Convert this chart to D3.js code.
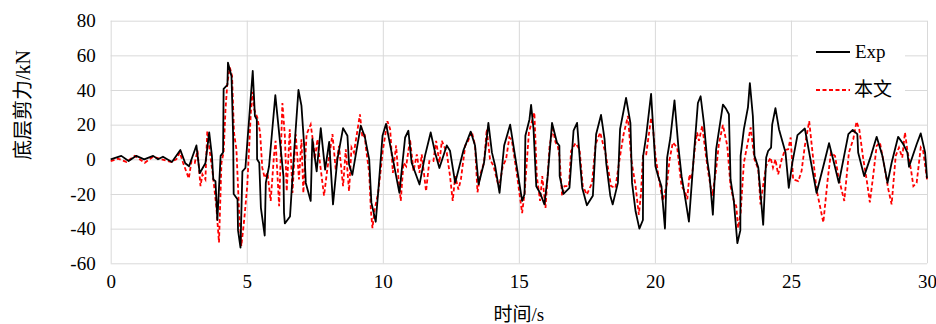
<!DOCTYPE html>
<html>
<head>
<meta charset="utf-8">
<script src="https://cdn.jsdelivr.net/npm/d3@7/dist/d3.min.js"></script>
<style>
  body { margin: 0; background: #fff; }
  svg text { font-family: "Liberation Serif", "Times New Roman", serif; fill: #000; }
  svg text.cjk { font-family: "Liberation Serif", "Times New Roman", "Noto Sans CJK SC", serif; }
</style>
</head>
<body>
<div class="chart"></div>
<script>
// time (s) and base shear (kN)
const timeExp = [0,0.39,0.66,0.94,1.23,1.56,1.74,1.92,2.25,2.56,2.74,2.88,3.15,3.27,3.48,3.62,3.72,3.77,3.85,3.92,4.04,4.13,4.15,4.29,4.31,4.44,4.50,4.52,4.66,4.68,4.77,4.84,4.95,5.22,5.30,5.37,5.38,5.46,5.52,5.66,5.70,5.82,6.05,6.35,6.37,6.40,6.59,6.74,6.90,7.01,7.11,7.17,7.35,7.41,7.57,7.72,7.88,8.03,8.17,8.33,8.54,8.70,8.76,8.88,9.19,9.34,9.50,9.58,9.74,9.83,9.99,10.12,10.61,10.82,10.94,11.06,11.35,11.55,11.76,11.92,12.08,12.35,12.47,12.66,12.96,13.23,13.39,13.52,13.72,13.88,14.01,14.13,14.29,14.46,14.68,14.92,15.12,15.21,15.24,15.39,15.45,15.54,15.64,15.78,15.94,16.06,16.22,16.40,16.49,16.50,16.64,16.86,17.01,17.14,17.25,17.33,17.50,17.72,17.84,18.02,18.15,18.21,18.36,18.45,18.64,18.72,18.94,19.10,19.16,19.29,19.43,19.56,19.57,19.68,19.86,20.02,20.12,20.24,20.37,20.45,20.57,20.72,20.86,20.98,21.13,21.25,21.43,21.58,21.68,21.80,21.92,22.01,22.13,22.25,22.50,22.62,22.72,22.78,22.90,23.03,23.14,23.15,23.27,23.42,23.49,23.60,23.66,23.80,23.98,24.09,24.16,24.27,24.31,24.43,24.56,24.80,24.92,25.05,25.24,25.51,25.74,25.94,26.19,26.40,26.55,26.76,27.11,27.27,27.44,27.47,27.69,27.94,28.15,28.36,28.55,28.70,28.94,29.13,29.28,29.34,29.62,29.77,29.93,30.00];
const shearExp = [0,2,-1,2,0,2,0,1.5,-1.5,5.4,-2.3,-4,8,-8,-2.3,15.5,2,-11.6,-12.6,-35,2,4,40.7,43,55.8,48,13.6,-20,-23,-41,-51,-7,-5,51,25,23,0,-2,-28,-44,-13.6,-4,37,-10,-31,-37,-33,4,40,31,8,-13.6,-24,11.6,-7,18,-6,10,-26,0,18,13.6,-3,-9,19.4,13,0,-25,-36,-19,13.6,20.5,-19.4,12.6,16.5,-2,-14.5,2,15.5,4,-5,8,5,-13.6,5,16,8,-14.5,-2,21,4,-4,-19.4,8,20,-4,-24,-20,13.6,23,31.4,17.4,-15.5,-19.4,-26,-9.7,21,9.7,7.8,-9.7,-20,-16.5,16.5,21,-2,-16.5,-26.5,-21,14.5,25.6,11.6,-2,-21,-26,-13.6,17.4,35.5,21,-13.6,-30,-40,-35,2,13.6,37.8,-4,-9.7,-15.5,-40,1,12.6,34,7.8,-9.7,-24,-36,2,32.5,36.4,21,0,-9.7,-32,5.8,31.6,29,26,-11.6,-24,-48.4,-41,2,17.4,30,44,25,2,-4.8,-37.8,1,4.8,6.8,20,29.5,17.4,3.9,-16.5,-2,14,17.8,-2,-19.4,-4,9.3,0,-13.6,14.5,17,14.5,3.9,-9.7,2,13,2,-13.6,-2,13,8.7,3.9,-4.3,8.7,15,3.9,-11];

const timeCalc = [0,0.27,0.58,0.88,1.25,1.56,1.86,2.23,2.41,2.54,2.66,2.87,2.97,3.09,3.19,3.30,3.37,3.48,3.55,3.64,3.76,3.88,3.98,4.07,4.15,4.22,4.29,4.38,4.46,4.53,4.62,4.71,4.80,4.90,5.02,5.15,5.21,5.27,5.39,5.49,5.57,5.66,5.76,5.88,6.00,6.06,6.19,6.31,6.40,6.47,6.58,6.68,6.80,6.92,7.01,7.08,7.20,7.35,7.45,7.50,7.60,7.69,7.84,7.96,8.15,8.27,8.39,8.54,8.64,8.76,8.85,8.94,9.16,9.25,9.34,9.37,9.50,9.56,9.62,9.70,9.83,10.00,10.17,10.27,10.37,10.49,10.57,10.66,10.76,10.86,11.00,11.13,11.25,11.35,11.43,11.59,11.71,11.86,11.96,12.08,12.17,12.35,12.47,12.57,12.66,12.78,12.87,13.03,13.11,13.27,13.39,13.48,13.60,13.72,13.82,13.94,14.07,14.27,14.41,14.53,14.65,14.74,14.92,15.12,15.21,15.37,15.57,15.66,15.78,15.86,15.98,16.13,16.25,16.35,16.43,16.49,16.59,16.68,16.84,16.92,17.08,17.23,17.35,17.50,17.69,17.82,17.99,18.11,18.18,18.39,18.55,18.70,18.85,19.01,19.13,19.29,19.41,19.49,19.56,19.68,19.86,19.92,20.02,20.15,20.29,20.45,20.54,20.66,20.82,20.88,20.98,21.10,21.19,21.27,21.35,21.49,21.55,21.62,21.74,21.86,21.98,22.11,22.25,22.35,22.50,22.66,22.78,22.90,22.99,23.06,23.15,23.27,23.39,23.52,23.60,23.66,23.80,23.88,24.01,24.09,24.25,24.34,24.43,24.53,24.66,24.78,24.90,24.99,25.08,25.27,25.39,25.51,25.67,25.78,25.94,26.19,26.35,26.47,26.62,26.74,26.96,27.13,27.29,27.41,27.51,27.66,27.78,27.90,28.02,28.15,28.27,28.42,28.58,28.70,28.85,28.97,29.09,29.19,29.29,29.41,29.50,29.62,29.77,29.86,30.00];
const shearCalc = [-1,0.4,-1.5,2,-2,1.5,0,-1.5,0,4,-2,-11,-1,-2,5,-15.5,-8.7,-11.6,16.5,4.8,-9.7,-27,-48,-2,4,29,44.6,53,48,15.5,5.8,-27,-50,-36,-15,27,39,29,24,15.5,-4.8,-10.7,-7.8,-24,2,10.7,-27,32.5,13.6,-18.4,17.4,-19.4,14.5,-11.6,11.6,-19.4,14.5,20,8.7,0,11.6,-2,-21,-5.8,14.5,-5.8,7.8,-15.5,5.8,-18.4,6.8,3.9,26,12.6,13.6,7.8,-7.8,-29,-39.7,-29,-19.4,5,22,17.4,-7.8,8,-9.7,-24,-2,-4,11.6,-6.8,2.9,-7.8,2.9,-18.4,-1,-1,10.7,-2,10.7,3.9,-9.7,-24,-9.7,-17.4,-11.6,8,9.7,16,8,-19,-7.8,-2,17.4,0,-3.9,-16.5,-3.9,0,12.6,11.2,-7.8,-31,-19.4,15.5,27,-9.7,-24,-9.7,-28,7.8,17.4,9.7,7.8,2,-21,-15.5,-15.5,4.8,9.3,5.8,-15.5,-20.3,-13.6,8.7,15.5,7.8,3.9,-15.5,-16.5,0,14.5,25,0,-15.5,-32,-19.4,2,2.9,24,20,2,-11.6,-24,-13.6,0,9.7,6.8,-2,-15.5,-18.4,-23,-8.7,-11.6,9.7,15.5,10.7,19.4,3.9,-9.7,-21,-5.8,8.7,19.8,7.8,-15.5,-24,-27,-39.7,-31,-2,7.8,18.4,7.8,0,-5.8,-26,-11.6,-3.9,1,-4.8,0,-8.7,0,5.4,5.8,12.6,-11.6,-12.6,-6.8,7.8,22,5.8,-17.4,-36.4,-11.6,3.9,2,-9.7,-24,3.9,11.6,21.7,17.4,0,-11.6,-24.8,-9.7,7.8,9.7,-2.9,-17.4,-26,2,6.8,1,15.5,3.9,-5.8,-15.5,-13.6,6.8,4.8,-11.6];

const xTicks = [0, 5, 10, 15, 20, 25, 30];
const yTicks = [-60, -40, -20, 0, 20, 40, 60, 80];
const seriesNames = ["Exp", "本文"];

const W = 936, H = 324;
const plotLeft = 110.7, plotRight = 927, plotTop = 20.7, plotBottom = 263.3;
const serif = '"Liberation Serif", "Times New Roman", serif';

const svg = d3.select("div.chart").append("svg")
  .attr("width", W)
  .attr("height", H);

const x = d3.scaleLinear().domain([0, 30]).range([plotLeft, plotRight]);
const y = d3.scaleLinear().domain([-60, 80]).range([plotBottom, plotTop]);

// gridlines + tick labels (plain hyphen for negatives, like the original)
const gx = svg.append("g")
  .attr("transform", "translate(0," + plotBottom + ")")
  .call(d3.axisBottom(x).tickValues(xTicks).tickFormat(d => String(d))
    .tickSize(-(plotBottom - plotTop)).tickPadding(11));
const gy = svg.append("g")
  .attr("transform", "translate(" + plotLeft + ",0)")
  .call(d3.axisLeft(y).tickValues(yTicks).tickFormat(d => String(d))
    .tickSize(-(plotRight - plotLeft)).tickPadding(15));

[gx, gy].forEach(g => {
  g.attr("font-family", serif).attr("font-size", 19);
  g.select(".domain").remove();
  g.selectAll(".tick line").attr("stroke", "#d9d9d9").attr("stroke-width", 1);
  g.selectAll(".tick text")
    .style("font-family", serif)
    .style("font-size", "19px")
    .attr("fill", "#000");
});

const line = d3.line()
  .x(d => x(d[0]))
  .y(d => y(d[1]));

let expData = timeExp.map((t, i) => [t, shearExp[i]]);
let calcData = timeCalc.map((t, i) => [t, shearCalc[i]]);

svg.append("path")
  .datum(calcData)
  .attr("d", line)
  .attr("fill", "none")
  .attr("stroke", "#ff0000")
  .attr("stroke-width", 1.8)
  .attr("stroke-dasharray", "4,2.5");

svg.append("path")
  .datum(expData)
  .attr("d", line)
  .attr("fill", "none")
  .attr("stroke", "#000")
  .attr("stroke-width", 1.8)
  .attr("stroke-linejoin", "round");

// legend
const lg = svg.append("g");
lg.append("rect")
  .attr("x", 798).attr("y", 42)
  .attr("width", 107).attr("height", 57)
  .attr("fill", "#fff");
lg.append("line")
  .attr("x1", 816).attr("x2", 850).attr("y1", 52).attr("y2", 52)
  .attr("stroke", "#000").attr("stroke-width", 1.8);
lg.append("line")
  .attr("x1", 816).attr("x2", 850).attr("y1", 90).attr("y2", 90)
  .attr("stroke", "#ff0000").attr("stroke-width", 1.8)
  .attr("stroke-dasharray", "4,2.5");
lg.append("text")
  .attr("x", 855).attr("y", 58)
  .style("font-size", "19px")
  .text(seriesNames[0]);
lg.append("text")
  .attr("class", "cjk")
  .attr("x", 854).attr("y", 96)
  .style("font-size", "19px")
  .text(seriesNames[1]);

// axis titles
svg.append("text")
  .attr("class", "cjk")
  .attr("x", (plotLeft + plotRight) / 2).attr("y", 321)
  .attr("text-anchor", "middle")
  .style("font-size", "19px")
  .text("时间/s");

svg.append("text")
  .attr("class", "cjk")
  .attr("transform", "translate(30,105) rotate(-90)")
  .attr("text-anchor", "middle")
  .style("font-size", "20px")
  .text("底层剪力/kN");
</script>
</body>
</html>
